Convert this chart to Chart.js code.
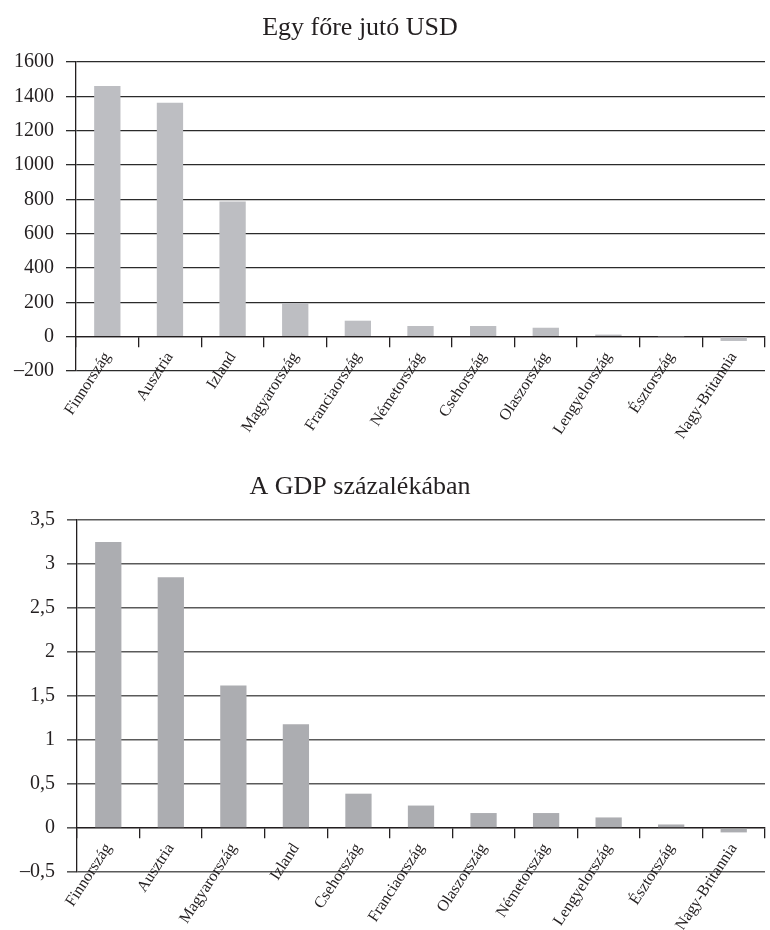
<!DOCTYPE html>
<html>
<head>
<meta charset="utf-8">
<script src="https://cdn.jsdelivr.net/npm/chart.js@4/dist/chart.umd.min.js"></script>
<style>
  html, body { margin: 0; padding: 0; background: #ffffff; }
  #wrap { position: relative; width: 770px; height: 930px; }
  canvas { position: absolute; left: 0; }
  #usd { top: 0; }
  #gdp { top: 470px; }
</style>
</head>
<body>
<div id="wrap">
  <canvas id="usd" width="770" height="470"></canvas>
  <canvas id="gdp" width="770" height="460"></canvas>
</div>
<script>
// Per-capita support in USD
const usdTitle = 'Egy főre jutó USD';
const usdCountries = ['Finnország', 'Ausztria', 'Izland', 'Magyarország', 'Franciaország',
  'Németország', 'Csehország', 'Olaszország', 'Lengyelország', 'Észtország', 'Nagy-Britannia'];
const usdValues = [1460, 1362, 788, 196, 93, 62, 62, 52, 12, 2, -25];
const usdTicks = [-200, 0, 200, 400, 600, 800, 1000, 1200, 1400, 1600];

// Support as a share of GDP (%)
const gdpTitle = 'A GDP százalékában';
const gdpCountries = ['Finnország', 'Ausztria', 'Magyarország', 'Izland', 'Csehország',
  'Franciaország', 'Olaszország', 'Németország', 'Lengyelország', 'Észtország', 'Nagy-Britannia'];
const gdpValues = [3.25, 2.85, 1.62, 1.18, 0.39, 0.255, 0.17, 0.17, 0.12, 0.04, -0.05];
const gdpTicks = [-0.5, 0, 0.5, 1, 1.5, 2, 2.5, 3, 3.5];

const INK = '#231f20';
const SERIF = "'Liberation Serif', 'Times New Roman', serif";

// Hungarian number style: decimal comma, en dash for negatives
function fmt(v) {
  return (v < 0 ? '\u2013' : '') + String(Math.abs(v)).replace('.', ',');
}

// Draws a centred heading above the plot
function headingPlugin(text, x, y) {
  return {
    id: 'heading',
    afterDraw(chart) {
      const ctx = chart.ctx;
      ctx.save();
      ctx.font = '26px ' + SERIF;
      ctx.fillStyle = INK;
      ctx.textAlign = 'center';
      ctx.textBaseline = 'middle';
      ctx.fillText(text, x, y);
      ctx.restore();
    }
  };
}

function makeChart(id, title, titleY, labels, values, ticks, barColor, gridColor, gridWidth, axisWidth, pad) {
  return new Chart(document.getElementById(id), {
    type: 'bar',
    data: {
      labels: labels,
      datasets: [{
        data: values,
        backgroundColor: barColor,
        borderWidth: 0,
        categoryPercentage: 1,
        barPercentage: 0.42
      }]
    },
    options: {
      responsive: false,
      animation: false,
      devicePixelRatio: 1,
      layout: { padding: pad },
      plugins: { legend: { display: false }, tooltip: { enabled: false }, title: { display: false } },
      scales: {
        x: {
          type: 'category',
          position: { y: 0 },
          offset: true,
          grid: {
            offset: true,
            drawOnChartArea: false,
            drawTicks: true,
            tickLength: 10,
            color: INK,
            lineWidth: 1.3
          },
          border: { display: true, color: INK, width: 1.3 },
          ticks: {
            autoSkip: false,
            minRotation: 57,
            maxRotation: 57,
            padding: 2,
            color: INK,
            font: { family: SERIF, size: 16 }
          }
        },
        y: {
          min: ticks[0],
          max: ticks[ticks.length - 1],
          afterBuildTicks(scale) { scale.ticks = ticks.map(v => ({ value: v })); },
          afterFit(scale) { scale.width = axisWidth; },
          grid: {
            color: gridColor,
            lineWidth: gridWidth,
            drawTicks: true,
            tickLength: 10
          },
          border: { display: true, color: INK, width: 1.3 },
          ticks: {
            padding: 12,
            color: INK,
            font: { family: SERIF, size: 20 },
            callback: v => fmt(v)
          }
        }
      }
    },
    plugins: [headingPlugin(title, 360, titleY)]
  });
}

makeChart('usd', usdTitle, 28, usdCountries, usdValues, usdTicks,
  '#bdbec2', '#2b2b2b', 1.3, 76, { top: 62, right: 5, bottom: 99, left: 0 });
makeChart('gdp', gdpTitle, 17, gdpCountries, gdpValues, gdpTicks,
  '#acadb1', '#5a5a5a', 1.6, 77, { top: 50, right: 5, bottom: 58, left: 0 });
</script>
</body>
</html>
